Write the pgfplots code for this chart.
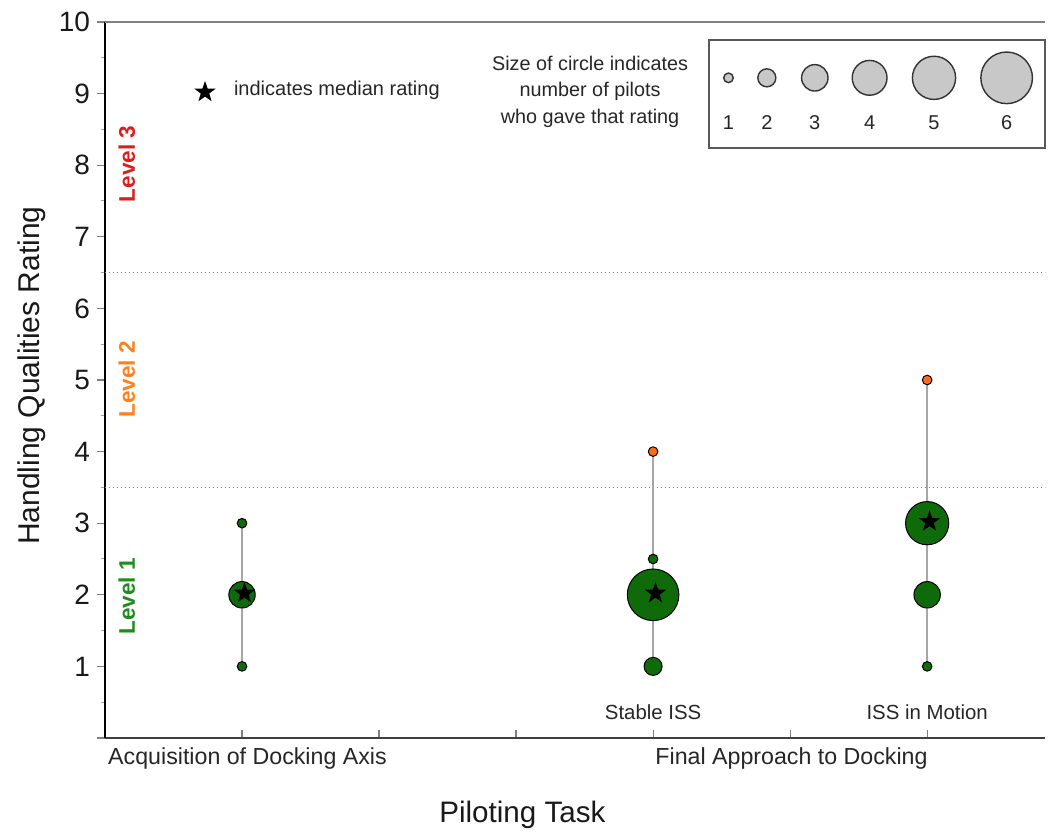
\documentclass[border=0pt]{standalone}
\usepackage{fontspec}
\setmainfont{Liberation Sans}
\usepackage{pgfplots}
\pgfplotsset{compat=1.18}
\definecolor{hqgreen}{HTML}{0F6B0A}
\definecolor{hqorange}{HTML}{FF6A1A}
\definecolor{lvred}{HTML}{DD1C1C}
\definecolor{lvorange}{HTML}{FF7F1E}
\definecolor{lvgreen}{HTML}{1E8C1E}
\definecolor{lgray}{HTML}{C8C8C8}
\pgfdeclareplotmark{fstar}{%
  \pgfpathmoveto{\pgfpointpolar{90}{\pgfplotmarksize}}%
  \pgfpathlineto{\pgfpointpolar{126}{0.40\pgfplotmarksize}}%
  \pgfpathlineto{\pgfpointpolar{162}{\pgfplotmarksize}}%
  \pgfpathlineto{\pgfpointpolar{198}{0.40\pgfplotmarksize}}%
  \pgfpathlineto{\pgfpointpolar{234}{\pgfplotmarksize}}%
  \pgfpathlineto{\pgfpointpolar{270}{0.40\pgfplotmarksize}}%
  \pgfpathlineto{\pgfpointpolar{306}{\pgfplotmarksize}}%
  \pgfpathlineto{\pgfpointpolar{342}{0.40\pgfplotmarksize}}%
  \pgfpathlineto{\pgfpointpolar{18}{\pgfplotmarksize}}%
  \pgfpathlineto{\pgfpointpolar{54}{0.40\pgfplotmarksize}}%
  \pgfpathclose\pgfusepathqfill}
\pgfplotstableread{
x y n
1 1 1
1 2 3
1 3 1
4 1 2
4 2 6
4 2.5 1
6 1 1
6 2 3
6 3 5
}\greenpts
\pgfplotstableread{
x y n
4 4 1
6 5 1
}\orangepts
\pgfplotstableread{
x y n
4.55 9.22 1
4.83 9.22 2
5.18 9.22 3
5.58 9.22 4
6.05 9.22 5
6.58 9.22 6
}\sizelegend
\begin{document}
\begin{tikzpicture}
\useasboundingbox (-52.5pt,-47.5pt) rectangle (472.5pt,369pt);
\begin{axis}[
  at={(0,0)}, anchor=south west,
  scale only axis, width=470pt, height=358pt,
  xmin=0, xmax=6.86, ymin=0, ymax=10,
  clip=false,
  axis x line*=bottom, axis y line*=left,
  x axis line style={draw=black!75, line width=1.2pt, -},
  y axis line style={draw=black, line width=0.9pt, -},
  tick align=outside,
  xtick={1,2,3,4,5,6}, xticklabels={},
  xtick style={draw=gray, line width=0.6pt, yshift=4pt},
  ytick={0,1,2,3,4,5,6,7,8,9,10},
  yticklabels={,1,2,3,4,5,6,7,8,9,10},
  minor ytick={0.5,1.5,2.5,3.5,4.5,5.5,6.5,7.5,8.5,9.5},
  major tick length=4pt, minor tick length=2pt,
  ytick style={draw=gray, line width=0.6pt},
  minor y tick style={draw=gray!70, line width=0.5pt},
  /pgf/number format/assume math mode=true,
  y tick label style={font=\fontsize{14}{16}\selectfont, text=black!90},
  ylabel={Handling Qualities Rating},
  ylabel style={at={(axis description cs:-0.078,0.506)}, anchor=center, font=\fontsize{15}{18}\selectfont, text=black!90},
  xlabel={Piloting Task},
  xlabel style={at={(axis description cs:0.444,-0.1075)}, anchor=center, font=\fontsize{14.8}{17}\selectfont, text=black!90},
]
% top frame line
\draw[gray, line width=1pt] (rel axis cs:0,1) -- (rel axis cs:1,1);
% level boundaries
\addplot[gray, line width=0.7pt, dash pattern=on 0.7pt off 1.3pt] coordinates {(0,3.5) (6.86,3.5)};
\addplot[gray, line width=0.7pt, dash pattern=on 0.7pt off 1.3pt] coordinates {(0,6.5) (6.86,6.5)};
% range lines
\addplot[black!35, line width=1pt] coordinates {(1,1) (1,3)};
\addplot[black!35, line width=1pt] coordinates {(4,1) (4,4)};
\addplot[black!35, line width=1pt] coordinates {(6,1) (6,5)};
% points
\addplot[scatter, only marks, mark=*, line width=0.5pt,
  scatter/use mapped color={draw=black, fill=hqgreen},
  visualization depends on={\thisrow{n} \as \npil},
  scatter/@pre marker code/.append style={/tikz/mark size=2.1*\npil+0.3}]
  table[x=x, y=y] {\greenpts};
\addplot[scatter, only marks, mark=*, line width=0.5pt,
  scatter/use mapped color={draw=black, fill=hqorange},
  visualization depends on={\thisrow{n} \as \npil},
  scatter/@pre marker code/.append style={/tikz/mark size=2.1*\npil+0.3}]
  table[x=x, y=y] {\orangepts};
% medians
\addplot[only marks, mark=fstar, mark size=5.6pt, black, mark options={xshift=1.2pt, yshift=0.8pt}]
  coordinates {(1,2) (4,2) (6,3)};
% median legend
\addplot[only marks, mark=fstar, mark size=5.6pt, black] coordinates {(0.73,9.02)};
\node[anchor=west, font=\fontsize{10}{12}\selectfont, text=black!85] at (axis cs:0.89,9.04) {indicates median rating};
% size legend
\draw[black!65, line width=0.9pt] (axis cs:4.41,8.24) rectangle (axis cs:6.86,9.75);
\addplot[scatter, only marks, mark=*, line width=0.7pt,
  scatter/use mapped color={draw=black!80, fill=lgray},
  visualization depends on={\thisrow{n} \as \npil},
  scatter/@pre marker code/.append style={/tikz/mark size=2.1*\npil+0.3}]
  table[x=x, y=y] {\sizelegend};
\node[font=\fontsize{10}{12}\selectfont, text=black!85] at (axis cs:4.55,8.59) {1};
\node[font=\fontsize{10}{12}\selectfont, text=black!85] at (axis cs:4.83,8.59) {2};
\node[font=\fontsize{10}{12}\selectfont, text=black!85] at (axis cs:5.18,8.59) {3};
\node[font=\fontsize{10}{12}\selectfont, text=black!85] at (axis cs:5.58,8.59) {4};
\node[font=\fontsize{10}{12}\selectfont, text=black!85] at (axis cs:6.05,8.59) {5};
\node[font=\fontsize{10}{12}\selectfont, text=black!85] at (axis cs:6.58,8.59) {6};
\node[align=center, font=\fontsize{9.9}{13.25}\selectfont, text=black!85] at (axis cs:3.54,9.03) {Size of circle indicates\\number of pilots\\who gave that rating};
% level labels
\node[rotate=90, font=\fontsize{11.3}{13}\selectfont\bfseries, text=lvred] at (axis cs:0.16,8.02) {Level 3};
\node[rotate=90, font=\fontsize{11.3}{13}\selectfont\bfseries, text=lvorange] at (axis cs:0.16,5.01) {Level 2};
\node[rotate=90, font=\fontsize{11.3}{13}\selectfont\bfseries, text=lvgreen] at (axis cs:0.16,1.98) {Level 1};
% category labels
\node[font=\fontsize{11.6}{13}\selectfont, text=black!85] at (axis cs:1.04,-0.293) {Acquisition of Docking Axis};
\node[font=\fontsize{11.6}{13}\selectfont, text=black!85] at (axis cs:5.01,-0.293) {Final Approach to Docking};
\node[font=\fontsize{10.2}{12}\selectfont, text=black!85] at (axis cs:4.0,0.36) {Stable ISS};
\node[font=\fontsize{10.2}{12}\selectfont, text=black!85] at (axis cs:6.0,0.36) {ISS in Motion};
\end{axis}
\end{tikzpicture}
\end{document}
